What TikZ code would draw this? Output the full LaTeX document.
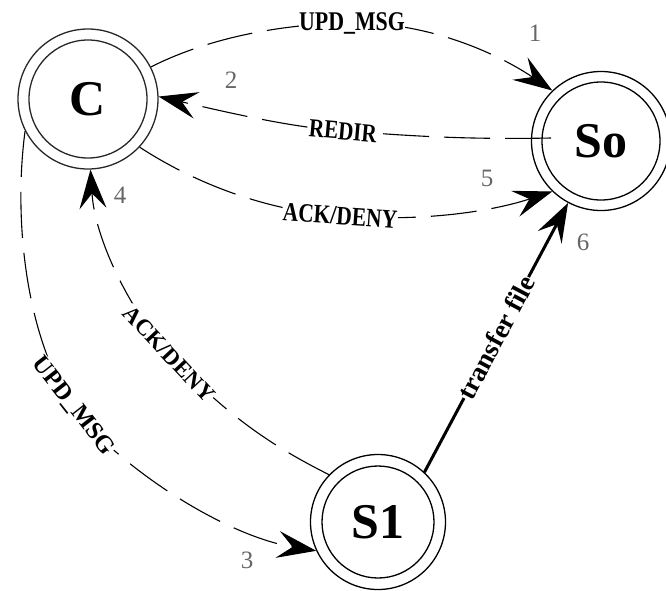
\documentclass[tikz,border=0pt]{standalone}
\usepackage{fontspec}
\setmainfont{Liberation Serif}
\newfontfamily\condserif{Liberation Serif}[FakeStretch=0.81]
\usetikzlibrary{arrows.meta,calc}

\definecolor{numgray}{HTML}{666666}

\tikzset{
  % double-ringed state: outer ring is the node border, inner ring drawn inside
  state/.style={circle, draw=black, line width=1.3pt, inner sep=0pt,
    minimum size=#1, font=\bfseries\fontsize{50}{50}\selectfont},
  ring/.style={path picture={\draw[line width=1.3pt]
    (path picture bounding box.center) circle[radius=#1];}},
  vee/.style={-{Stealth[length=39pt,width=27pt,inset=15pt]}},
  msg/.style={vee, draw=black, line width=1.1pt, dash pattern=on 46pt off 15pt},
  xfer/.style={vee, draw=black, line width=3pt},
  elab/.style={fill=white, inner sep=0.6pt, text=black,
    font=\condserif\bfseries\fontsize{#1}{#1}\selectfont},
  elabr/.style={fill=white, inner sep=0.6pt, text=black,
    font=\bfseries\fontsize{#1}{#1}\selectfont},
  num/.style={text=numgray, inner sep=0pt, font=\fontsize{25}{25}\selectfont},
}

\begin{document}
\begin{tikzpicture}[x=1pt, y=-1pt]
\useasboundingbox (0,0) rectangle (666,590);

% states
\node[state=140pt, ring=59pt, draw=black!85] (C)  at (88,99)   {C};
\node[state=139pt, ring=59pt]                (So) at (601,141) {So};
\node[state=135pt, ring=56pt]                (S1) at (378,522) {S1};

% C -> So : update message
\draw[msg] (C.27) .. controls (200,42) and (270,24) .. (352,23)
  node[elab=27] (lupd) {UPD\_MSG}
  .. controls (430,22) and (500,55) .. (So.134);

% So -> C : redirect
\draw[msg] ($(So.center)+(-50,-3)$) .. controls (450,140) and (390,134) .. (343,131)
  node[elab=26, rotate=-5] (lredir) {REDIR}
  .. controls (290,127) and (230,113) .. (C.2);

% C -> S1 : update message
\draw[msg] (C.207) .. controls (12,230) and (30,345) .. (73,406)
  node[elabr=24.5, rotate=-52] (lupdb) {UPD\_MSG}
  .. controls (110,460) and (220,535) .. (S1.205);

% S1 -> C : acknowledge / deny
\draw[msg] (S1.136) .. controls (280,450) and (230,420) .. (169,354)
  node[elabr=23, rotate=-47] (lackb) {ACK/DENY}
  .. controls (130,310) and (95,240) .. (C.272);

% C -> So : acknowledge / deny
\draw[msg] (C.-43) .. controls (190,180) and (260,210) .. (340,216)
  node[elab=26.5, rotate=-4] (lack) {ACK/DENY}
  .. controls (420,222) and (490,212) .. (So.226);

% S1 -> So : file transfer
\draw[xfer] (S1.47) -- node[elabr=27, sloped] (lxfer) {transfer file} (So.242);

% step numbers
\node[num] (n1) at (535,33)  {1};
\node[num] (n2) at (231,80)  {2};
\node[num] (n3) at (247,560) {3};
\node[num] (n4) at (120,195) {4};
\node[num] (n5) at (487,178) {5};
\node[num] (n6) at (583,242) {6};
\end{tikzpicture}
\end{document}
